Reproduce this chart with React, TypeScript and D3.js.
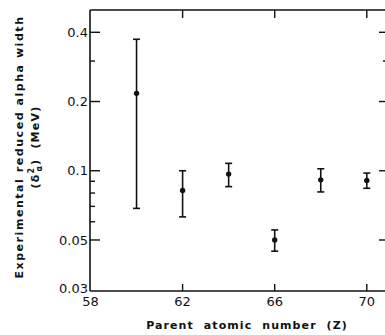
import * as d3 from "d3";

// Parent atomic number (Z) and reduced alpha width (MeV)
const zValues = [60, 62, 64, 66, 68, 70];
const widths = [0.217, 0.082, 0.0967, 0.05, 0.0913, 0.0907];
const errLow = [0.0686, 0.063, 0.0853, 0.0447, 0.0809, 0.0839];
const errHigh = [0.373, 0.1, 0.1077, 0.0553, 0.102, 0.0977];

const xTickLabels = [58, 62, 66, 70];
const yMajorTicks = [0.03, 0.05, 0.1, 0.2, 0.4];
const yMinorTicks = [0.3, 0.09, 0.08, 0.07, 0.06];
const yRightMajor = [0.05, 0.1, 0.2, 0.4];

const W = 385;
const H = 335;
const margin = { top: 10, right: 0, bottom: 44, left: 90 };

export default function App() {
    const x = d3
        .scaleLinear()
        .domain([58, 70])
        .range([margin.left + 0.5, 366.8]);
    const y = d3
        .scaleLog()
        .domain([0.03, 0.5])
        .range([H - margin.bottom, margin.top]);

    const left = margin.left;
    const right = W - margin.right;
    const top = margin.top;
    const bottom = H - margin.bottom;

    const font = "'DejaVu Sans', sans-serif";
    const fmt = (v: number) => String(v);

    return (
        <svg
            width={W}
            height={H}
            style={{ position: "absolute", left: 0, top: 0, background: "#fff", overflow: "hidden" }}
            fontFamily={font}
        >
            {/* frame: the right side of the box is cut off by the picture edge */}
            <g stroke="#111" fill="none" strokeWidth={1.6}>
                <line x1={left} x2={left} y1={top} y2={bottom} />
                <line x1={left} x2={right} y1={bottom} y2={bottom} />
                <line x1={left} x2={right} y1={top} y2={top} strokeWidth={1.3} />
            </g>

            {/* ticks */}
            <g stroke="#111" strokeWidth={1.4}>
                {yMajorTicks
                    .filter((v) => v !== 0.03)
                    .map((v) => (
                        <line key={"lm" + v} x1={left} x2={left + 10} y1={y(v)} y2={y(v)} />
                    ))}
                {yMinorTicks.map((v) => (
                    <line key={"ln" + v} x1={left} x2={left + 5} y1={y(v)} y2={y(v)} />
                ))}
                {yRightMajor.map((v) => (
                    <line key={"rm" + v} x1={379} x2={W} y1={y(v)} y2={y(v)} />
                ))}
                <line x1={383} x2={W} y1={y(0.3)} y2={y(0.3)} />
                {xTickLabels
                    .filter((v) => v !== 58)
                    .map((v) => (
                        <g key={"xt" + v}>
                            <line x1={x(v)} x2={x(v)} y1={bottom} y2={bottom - 7} />
                            <line x1={x(v)} x2={x(v)} y1={top} y2={top + 8} />
                        </g>
                    ))}
            </g>

            {/* y tick labels */}
            <g fontSize={13} fill="#111" textAnchor="end">
                {yMajorTicks.map((v) => (
                    <text key={"yl" + v} x={left - 2} y={y(v)} dy={v === 0.03 ? "0.12em" : "0.36em"}>
                        {fmt(v)}
                    </text>
                ))}
            </g>

            {/* x tick labels */}
            <g fontSize={13} fill="#111" textAnchor="middle">
                {xTickLabels.map((v) => (
                    <text key={"xl" + v} x={x(v)} y={bottom + 15}>
                        {v}
                    </text>
                ))}
            </g>

            {/* axis titles */}
            <text
                x={247}
                y={329}
                fontSize={11}
                fontWeight="bold"
                letterSpacing={1.1}
                textAnchor="middle"
                fill="#111"
                style={{ whiteSpace: "pre" }}
            >
                {"Parent  atomic  number  (Z)"}
            </text>
            <g transform="translate(23,147) rotate(-90)" fill="#111" fontWeight="bold" textAnchor="middle">
                <text x={0} y={0} fontSize={11} letterSpacing={1.55}>
                    Experimental reduced alpha width
                </text>
                <text x={0} y={16} fontSize={11} letterSpacing={1.2} style={{ whiteSpace: "pre" }}>
                    <tspan>(δ</tspan>
                    <tspan fontSize={8} dy={-5}>2</tspan>
                    <tspan fontSize={8} dx={-5} dy={8}>α</tspan>
                    <tspan dy={-3}>)  (MeV)</tspan>
                </text>
            </g>

            {/* error bars */}
            <g stroke="#111" strokeWidth={1.6}>
                {zValues.map((z, i) => (
                    <g key={"eb" + z}>
                        <line x1={x(z)} x2={x(z)} y1={y(errLow[i])} y2={y(errHigh[i])} />
                        <line x1={x(z) - 3.5} x2={x(z) + 3.5} y1={y(errLow[i])} y2={y(errLow[i])} />
                        <line x1={x(z) - 3.5} x2={x(z) + 3.5} y1={y(errHigh[i])} y2={y(errHigh[i])} />
                    </g>
                ))}
            </g>
            <g fill="#111">
                {zValues.map((z, i) => (
                    <circle key={"pt" + z} cx={x(z)} cy={y(widths[i])} r={2.7} />
                ))}
            </g>
        </svg>
    );
}
